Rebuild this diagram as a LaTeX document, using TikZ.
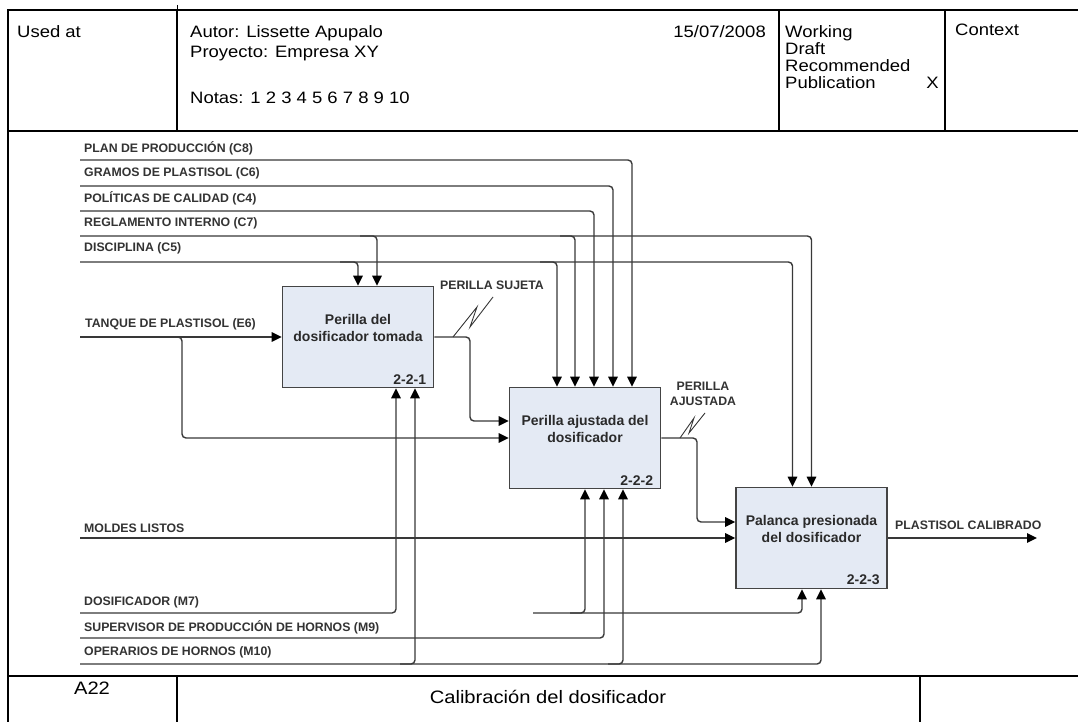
\documentclass[tikz,border=0pt]{standalone}
\usepackage{fontspec}
\setmainfont{Liberation Sans}
\newfontfamily\formfont[FakeStretch=1.12]{Liberation Sans}
\usetikzlibrary{arrows.meta,calc}
\definecolor{linegray}{HTML}{383838}
\definecolor{boxfill}{HTML}{E4EAF4}
\definecolor{boxedge}{HTML}{444444}
\definecolor{textdark}{HTML}{2A2A2A}
\definecolor{textgray}{HTML}{333333}
\begin{document}
\begin{tikzpicture}[x=1pt,y=-1pt,
  frame/.style={line width=2.4pt, black, line cap=rect},
  flow/.style={draw=linegray, line width=1.4pt, rounded corners=4pt},
  arr/.style={flow, -{Triangle[length=10pt,width=9.5pt,fill=black,color=black]}},
  squig/.style={draw=linegray, line width=0.9pt},
  act/.style={draw=boxedge, fill=boxfill, line width=1.6pt, minimum width=151pt, minimum height=101pt, inner sep=0pt},
  acttext/.style={font=\fontsize{14}{17}\selectfont\bfseries, text=textdark, align=center, inner sep=0pt},
  actnum/.style={font=\fontsize{14}{17}\selectfont\bfseries, text=textdark, anchor=south east, inner sep=0pt},
  lbl/.style={font=\fontsize{12.3}{15}\selectfont\bfseries, text=textgray, anchor=base west, inner sep=0pt},
  lblc/.style={font=\fontsize{12.3}{15}\selectfont\bfseries, text=textgray, align=center, inner sep=0pt},
  hdr/.style={font=\formfont\fontsize{16.5}{17}\selectfont, inner sep=0pt, anchor=base west},
  ftr/.style={font=\formfont\fontsize{18}{20}\selectfont, inner sep=0pt, anchor=center},
]
\useasboundingbox[fill=white] (0,0) rectangle (1078,722);

% ---------- form frame ----------
\draw[frame] (8,722) -- (8,10) -- (1078,10);
\draw[frame] (8,131) -- (1078,131);
\draw[frame] (177,10) -- (177,131);
\draw[black, line width=1pt] (177,5) -- (177,10);
\draw[frame] (779,10) -- (779,131);
\draw[frame] (945,10) -- (945,131);
\draw[frame] (8,676) -- (1078,676);
\draw[frame] (177,676) -- (177,722);
\draw[frame] (920,676) -- (920,722);

% ---------- header texts ----------
\node[hdr] (usedat) at (17,38) {Used at};
\node[hdr] (autor) at (190,38) {Autor: Lissette Apupalo};
\node[hdr] (proy) at (190,58) {Proyecto: Empresa XY};
\node[hdr] (notas) at (190,104) {Notas: 1 2 3 4 5 6 7 8 9 10};
\node[hdr, anchor=base east] (fecha) at (766,38) {15/07/2008};
\node[hdr] (working) at (785,38) {Working};
\node[hdr] (draft) at (785,55) {Draft};
\node[hdr] (recom) at (785,72) {Recommended};
\node[hdr] (publ) at (785,89) {Publication};
\node[hdr, anchor=base east] (mark) at (939,89) {X};
\node[hdr] (context) at (955,36) {Context};

% ---------- footer texts ----------
\node[ftr] (nodeid) at (92,688) {A22};
\node[ftr] (title) at (548,697) {Calibración del dosificador};

% ---------- activities ----------
\node[act] (p1) at (358,337) {};
\node[act] (p2) at (585,438) {};
\node[act] (p3) at (811.5,538) {};
\node[acttext] (t1) at ($(p1.center)+(0,-9.5)$) {Perilla del\\dosificador tomada};
\node[acttext] (t2) at ($(p2.center)+(0,-9.5)$) {Perilla ajustada del\\dosificador};
\node[acttext] (t3) at ($(p3.center)+(0,-9)$) {Palanca presionada\\del dosificador};
\node[actnum] (n1) at ($(p1.south east)+(-8,-4)$) {2-2-1};
\node[actnum] (n2) at ($(p2.south east)+(-8,-4)$) {2-2-2};
\node[actnum] (n3) at ($(p3.south east)+(-8,-4)$) {2-2-3};

% ---------- controls ----------
\node[lbl] (lc8) at (84,153) {PLAN DE PRODUCCIÓN (C8)};
\node[lbl] (lc6) at (84,177) {GRAMOS DE PLASTISOL (C6)};
\node[lbl] (lc4) at (84,202) {POLÍTICAS DE CALIDAD (C4)};
\node[lbl] (lc7) at (84,226) {REGLAMENTO INTERNO (C7)};
\node[lbl] (lc5) at (84,251) {DISCIPLINA (C5)};
\coordinate (c8) at (80,160);
\coordinate (c6) at (80,186);
\coordinate (c4) at (80,211);
\coordinate (c7) at (80,236);
\coordinate (c5) at (80,262);
\coordinate (c7a) at (360,236);
\coordinate (c7b) at (560,236);
\coordinate (c5a) at (340,262);
\coordinate (c5b) at (540,262);

\draw[arr] (c8) -| ([xshift=47pt]p2.north);
\draw[arr] (c6) -| ([xshift=28pt]p2.north);
\draw[arr] (c4) -| ([xshift=9pt]p2.north);
\draw[arr] (c7) -| (p3.north);
\draw[arr] (c7a) -| ([xshift=19pt]p1.north);
\draw[arr] (c7b) -| ([xshift=-10pt]p2.north);
\draw[arr] (c5) -| ([xshift=-19pt]p3.north);
\draw[arr] (c5a) -| (p1.north);
\draw[arr] (c5b) -| ([xshift=-28pt]p2.north);

% ---------- inputs and outputs ----------
\node[lbl] (le6) at (85,327) {TANQUE DE PLASTISOL (E6)};
\node[lbl] (lml) at (84,532) {MOLDES LISTOS};
\coordinate (e6) at (80,337);
\coordinate (e6b) at (165,337);
\coordinate (tk) at (182,438);
\coordinate (ml) at (80,538);
\coordinate (j12) at (470,421);
\coordinate (j23) at (697,522);
\coordinate (out) at (1037,538);

\draw[arr] (e6) -- (p1.west);
\draw[arr] (e6b) -| (tk) -- (p2.west);
\draw[arr] (p1.east) -| (j12) -- (j12 -| p2.west);
\draw[arr] (p2.east) -| (j23) -- (j23 -| p3.west);
\draw[arr] (ml) -- (p3.west);
\draw[arr] (p3.east) -- (out);

\node[lbl] (lsuj) at (440,289) {PERILLA SUJETA};
\node[lblc] (lajs) at (703,393.5) {PERILLA\\AJUSTADA};
\node[lbl] (lcal) at (895,529) {PLASTISOL CALIBRADO};
\draw[squig] (453,337) -- (477,307) -- (470,327) -- (493,297);
\draw[squig] (680,438) -- (694,418) -- (689,433) -- (705,413);

% ---------- mechanisms ----------
\node[lbl] (lm7) at (84,605) {DOSIFICADOR (M7)};
\node[lbl] (lm9) at (84,631) {SUPERVISOR DE PRODUCCIÓN DE HORNOS (M9)};
\node[lbl] (lm10) at (84,655) {OPERARIOS DE HORNOS (M10)};
\coordinate (m7) at (80,613);
\coordinate (m7b) at (533,613);
\coordinate (m7c) at (570,613);
\coordinate (m9) at (80,638);
\coordinate (m10) at (80,664);
\coordinate (m10a) at (400,664);
\coordinate (m10b) at (608,664);

\draw[arr] (m7) -| ([xshift=38pt]p1.south);
\draw[arr] (m7b) -| ([xshift=-9.5pt]p3.south);
\draw[arr] (m7c) -| (p2.south);
\draw[arr] (m9) -| ([xshift=19pt]p2.south);
\draw[arr] (m10) -| ([xshift=9.5pt]p3.south);
\draw[arr] (m10a) -| ([xshift=57pt]p1.south);
\draw[arr] (m10b) -| ([xshift=38pt]p2.south);
\end{tikzpicture}
\end{document}
